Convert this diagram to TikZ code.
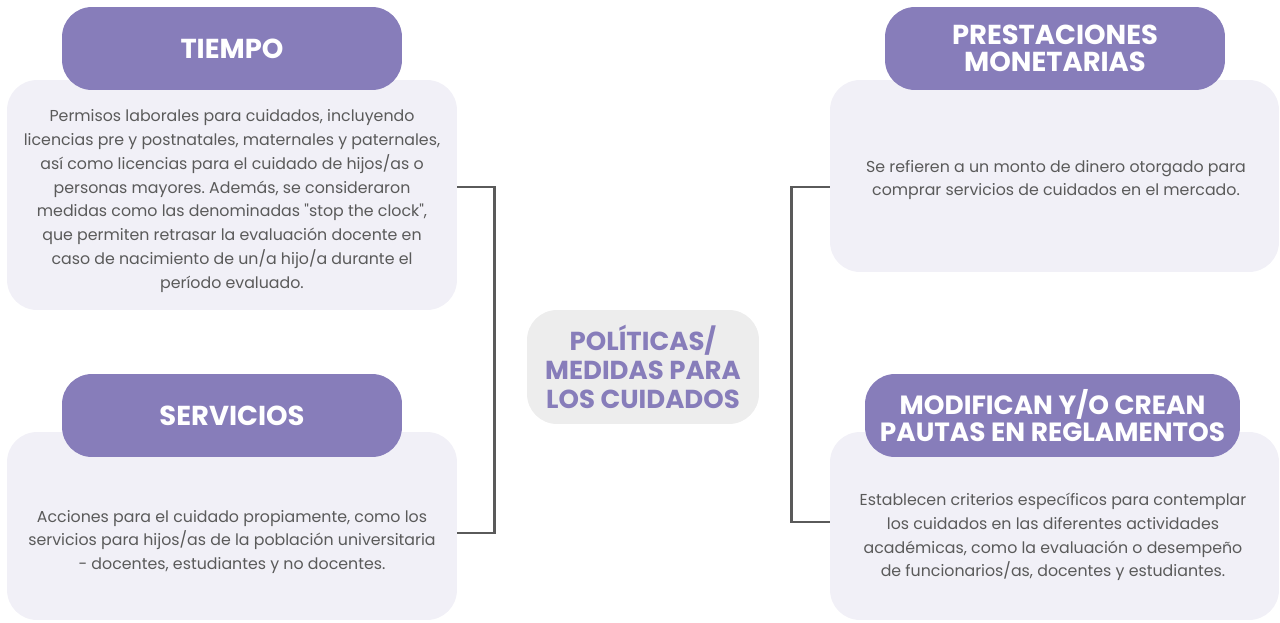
\documentclass[tikz,border=0pt]{standalone}
\usepackage{fontspec}
\setmainfont{Poppins}
\usepackage{tikz}
\usetikzlibrary{calc}
\frenchspacing
\definecolor{lila}{HTML}{877DBA}
\definecolor{lilaclaro}{HTML}{F1F0F7}
\definecolor{grisTexto}{HTML}{5A5A5A}
\definecolor{grisLinea}{HTML}{5A5A5A}
\definecolor{grisCentro}{HTML}{EDEDED}
\tikzset{
  cuerpo/.style={fill=lilaclaro, rounded corners=0.6cm, minimum width=9cm, inner sep=0pt},
  titulo/.style={fill=lila, rounded corners=0.6cm, minimum width=6.8cm, minimum height=1.66cm, inner sep=0pt,
    text=white, align=center, font=\bfseries\fontsize{15.6}{15.3}\selectfont},
  texto/.style={text=grisTexto, align=center, font=\fontsize{9}{13.6}\selectfont},
  conector/.style={draw=grisLinea, line width=1.6pt}
}
\begin{document}
\begin{tikzpicture}[x=0.02cm,y=-0.02cm]
\useasboundingbox (0,0) rectangle (1280,622);
\node[cuerpo, minimum height=4.6cm] (tiempoBox) at (232,195) {};
\node[cuerpo, minimum height=3.76cm] (serviciosBox) at (232,526) {};
\node[cuerpo, minimum width=8.98cm, minimum height=3.84cm] (prestBox) at (1054.5,176) {};
\node[cuerpo, minimum width=8.98cm, minimum height=3.76cm] (pautasBox) at (1054.5,526) {};
\node[titulo] (tiempo) at (232,48.5) {TIEMPO};
\node[titulo] (servicios) at (232,415.5) {SERVICIOS};
\node[titulo] (prest) at (1055,48.5) {PRESTACIONES\\MONETARIAS};
\node[titulo, minimum width=7.5cm, font=\bfseries\fontsize{15}{15.3}\selectfont] (pautas) at (1052.5,415.5) {MODIFICAN Y/O CREAN\\PAUTAS EN REGLAMENTOS};
\node[texto] (tiempoTxt) at (232,201) {Permisos laborales para cuidados, incluyendo\\licencias pre y postnatales, maternales y paternales,\\así como licencias para el cuidado de hijos/as o\\personas mayores. Además, se consideraron\\medidas como las denominadas \textquotedbl stop the clock\textquotedbl,\\que permiten retrasar la evaluación docente en\\caso de nacimiento de un/a hijo/a durante el\\período evaluado.};
\node[texto] (serviciosTxt) at (232,542) {Acciones para el cuidado propiamente, como los\\servicios para hijos/as de la población universitaria\\- docentes, estudiantes y no docentes.};
\node[texto] (prestTxt) at (1056,180) {Se refieren a un monto de dinero otorgado para\\comprar servicios de cuidados en el mercado.};
\node[texto] (pautasTxt) at (1053,537) {Establecen criterios específicos para contemplar\\los cuidados en las diferentes actividades\\académicas, como la evaluación o desempeño\\de funcionarios/as, docentes y estudiantes.};
\node[fill=grisCentro, rounded corners=0.6cm, minimum width=4.64cm, minimum height=2.28cm, inner sep=0pt,
  text=lila, align=center, font=\bfseries\fontsize{14.8}{16.4}\selectfont] (centro) at (643,367) {POLÍTICAS/\\MEDIDAS PARA\\LOS CUIDADOS};
\coordinate (izqA) at (tiempoBox.east |- 0,187);
\coordinate (izqB) at (serviciosBox.east |- 0,533);
\coordinate (derA) at (prestBox.west |- 0,187);
\coordinate (derB) at (pautasBox.west |- 0,522);
\draw[conector] (izqA) -- ($(izqA)+(37,0)$) |- (izqB);
\draw[conector] (derA) -- ($(derA)+(-38,0)$) |- (derB);
\end{tikzpicture}
\end{document}
